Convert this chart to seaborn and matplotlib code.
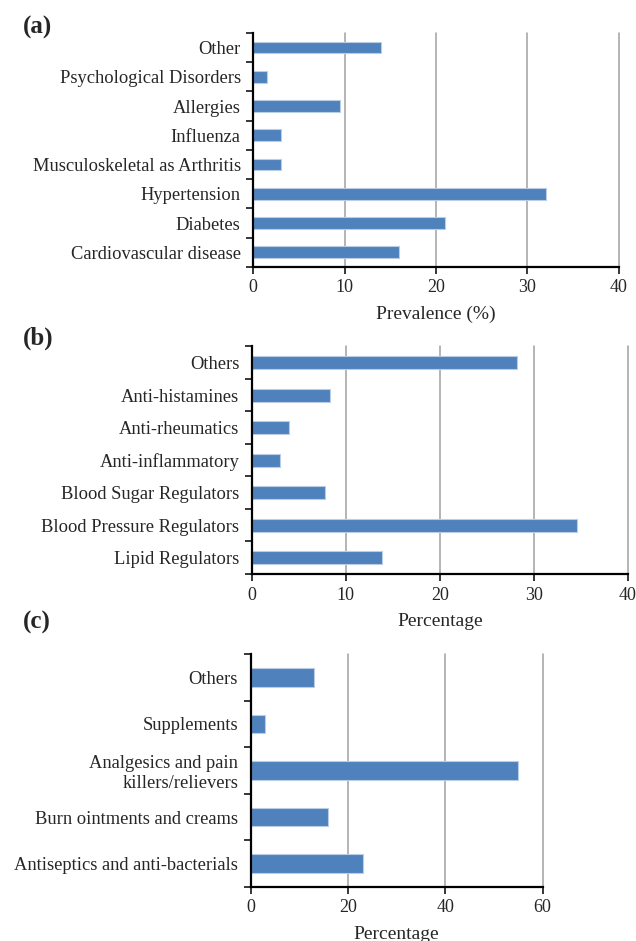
# Three horizontal bar panels: conditions, prescription drugs, OTC drugs
import pandas as pd
import seaborn as sns
import matplotlib.pyplot as plt
from matplotlib.ticker import FixedLocator

# panel (a) - prevalence of conditions
a_labels = ['Other', 'Psychological Disorders', 'Allergies', 'Influenza',
            'Musculoskeletal as Arthritis', 'Hypertension', 'Diabetes',
            'Cardiovascular disease']
a_values = [14, 1.5, 9.5, 3, 3, 32, 21, 16]

# panel (b) - medication classes
b_labels = ['Others', 'Anti-histamines', 'Anti-rheumatics', 'Anti-inflammatory',
            'Blood Sugar Regulators', 'Blood Pressure Regulators', 'Lipid Regulators']
b_values = [28.2, 8.3, 4.0, 3.0, 7.8, 34.6, 13.9]

# panel (c) - other products
c_labels = ['Others', 'Supplements', 'Analgesics and pain\nkillers/relievers',
            'Burn ointments and creams', 'Antiseptics and anti-bacterials']
c_values = [13, 3, 55, 16, 23.1]

sns.set_style('white')
plt.rcParams['font.family'] = ['Liberation Serif', 'DejaVu Serif']

bar_color = '#4F81BD'
fig = plt.figure(figsize=(6.36, 9.41), dpi=100)

panels = [
    ('(a)', a_labels, a_values, 40, 'Prevalence (%)', [0.398, 0.7163, 0.575, 0.2487], 0.971),
    ('(b)', b_labels, b_values, 40, 'Percentage', [0.396, 0.390, 0.591, 0.242], 0.641),
    ('(c)', c_labels, c_values, 60, 'Percentage', [0.394, 0.0574, 0.459, 0.2476], 0.339),
]

for tag, labels, values, xmax, xlabel, rect, tag_y in panels:
    ax = fig.add_axes(rect)
    df = pd.DataFrame({'label': labels, 'value': values})
    sns.barplot(data=df, x='value', y='label', color=bar_color, width=0.4,
                edgecolor='#B9CDE5', linewidth=0.8, saturation=1, ax=ax, zorder=3)
    n = len(labels)
    ax.set_xlim(0, xmax)
    ax.set_ylim(n - 0.5, -0.5)
    ax.set_xticks(range(0, xmax + 1, 10 if xmax == 40 else 20))
    ax.xaxis.grid(True, color='#A0A0A0', linewidth=1.1, zorder=0)
    ax.yaxis.grid(False)
    ax.set_axisbelow(True)
    for gl in ax.get_xgridlines():
        gl.set_clip_on(False)
    # tick marks between categories like excel
    ax.yaxis.set_minor_locator(FixedLocator([i - 0.5 for i in range(n + 1)]))
    ax.tick_params(axis='y', which='major', length=0, pad=9, labelsize=13.3)
    ax.tick_params(axis='y', which='minor', length=5, width=1.3, direction='out', left=True)
    ax.tick_params(axis='x', which='major', length=5, width=1.3, direction='out',
                   bottom=True, labelsize=13, pad=4)
    for side in ['top', 'right']:
        ax.spines[side].set_visible(False)
    for side in ['left', 'bottom']:
        ax.spines[side].set_color('black')
        ax.spines[side].set_linewidth(1.6)
        ax.spines[side].set_zorder(5)
    ax.set_ylabel('')
    ax.set_xlabel(xlabel, fontsize=14, labelpad=7)
    fig.text(0.036, tag_y, tag, fontsize=18, fontweight='bold', va='center')

plt.savefig('out.png', dpi=100)
plt.close()
